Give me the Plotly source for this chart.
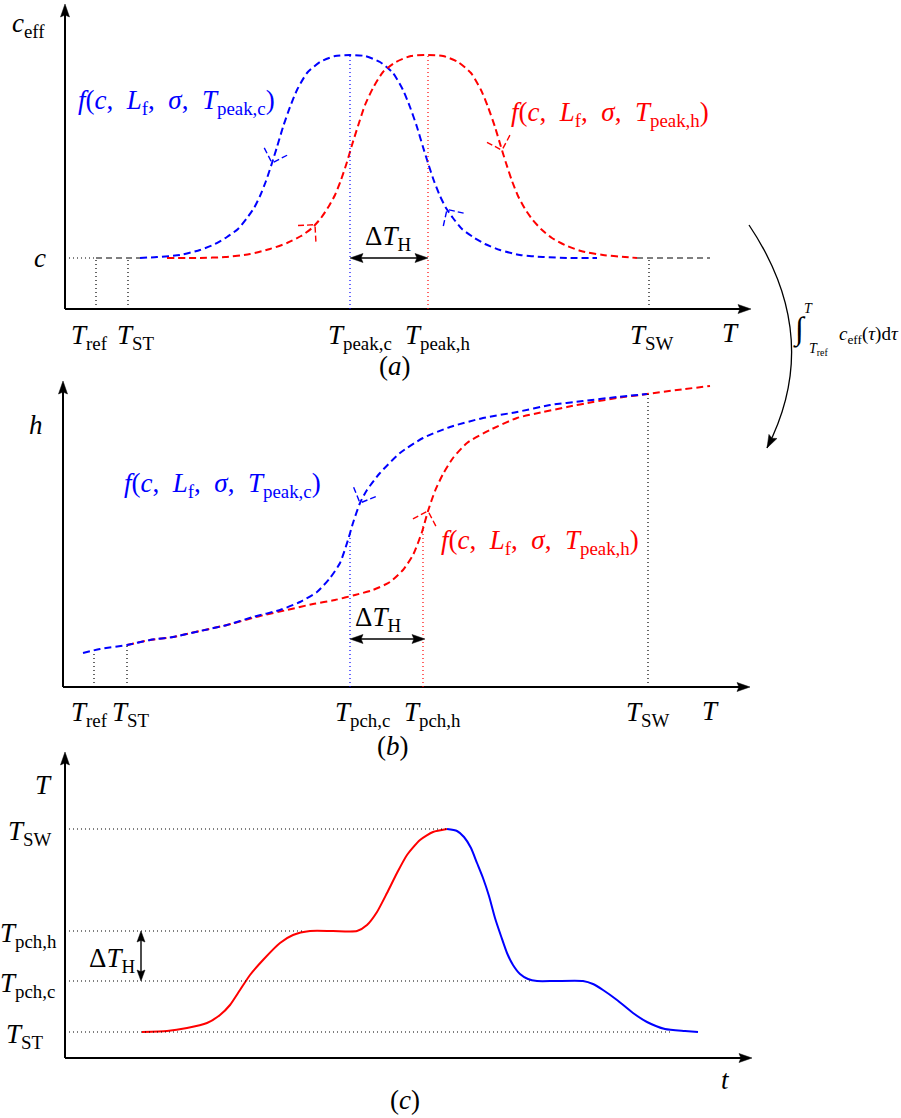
import numpy as np
import plotly.graph_objects as go

# ======================= DATA (schematic units) =======================
# ---- Panel (a): effective heat capacity c_eff versus temperature T ----
a_tick_T = [31, 63, 285, 363, 584]
a_tick_text = ["<i>T</i><sub>ref</sub>", "<i>T</i><sub>ST</sub>",
               "<i>T</i><sub>peak,c</sub>", "<i>T</i><sub>peak,h</sub>",
               "<i>T</i><sub>SW</sub>"]
a_c_level = 51          # c
a_c_peak = 254
a_cool_T = [75, 92, 115, 135, 150, 162, 173, 182, 189, 195, 201, 207, 212, 218, 225,
            232, 242, 255, 270, 285, 300, 315, 328, 338, 345, 352, 358, 363, 369, 375,
            381, 388, 397, 408, 420, 435, 455, 478, 505, 532]
a_cool_c = [51, 52, 54, 59, 65, 72, 80, 91, 101, 113, 128, 146, 162, 182, 202,
            219, 236, 247, 253, 254, 253, 247, 236, 219, 202, 182, 162, 146, 128, 113,
            101, 91, 80, 72, 65, 59, 54, 52, 51, 51]
a_heat_T = [102, 135, 160, 185, 205, 222, 236, 247, 256, 264, 270, 276, 282, 287, 293,
            300, 308, 318, 331, 346, 363, 378, 393, 406, 416, 423, 430, 436, 441, 447,
            453, 460, 467, 476, 487, 500, 516, 538, 560, 572]
a_heat_c = [51, 51, 52, 55, 60, 66, 73, 81, 91, 103, 114, 129, 147, 164, 183,
            204, 221, 237, 247, 253, 254, 253, 247, 236, 219, 202, 182, 162, 146, 128,
            113, 100, 90, 80, 71, 64, 58, 54, 52, 51]
a_base_left_T = [31, 75]
a_base_right_T = [572, 645]
a_arrow_cool_T = [207, 382]
a_arrow_heat_T = [250, 437]

# ---- Panel (b): enthalpy h versus temperature T ----
b_tick_T = [31, 64, 287, 360, 585]
b_tick_h = [35, 42, 153, 163, 293]
b_tick_text = ["<i>T</i><sub>ref</sub>", "<i>T</i><sub>ST</sub>",
               "<i>T</i><sub>pch,c</sub>", "<i>T</i><sub>pch,h</sub>",
               "<i>T</i><sub>SW</sub>"]
b_cool_T = [20, 37, 64, 87, 110, 137, 164, 190, 217, 237, 254, 267, 277, 285, 290,
            297, 304, 317, 337, 360, 387, 420, 454, 487, 520, 554, 584]
b_cool_h = [34, 38, 42, 47, 50, 56, 62, 70, 77, 85, 95, 109, 124, 147, 164,
            184, 197, 214, 234, 249, 260, 269, 275, 282, 286, 290, 293]
b_heat_T = [64, 87, 110, 137, 164, 197, 224, 250, 272, 292, 310, 327, 340, 350, 359,
            365, 372, 380, 390, 404, 427, 454, 480, 504, 530, 554, 584, 614, 647]
b_heat_h = [42, 47, 50, 56, 62, 71, 77, 83, 87, 92, 97, 105, 117, 132, 155,
            176, 196, 213, 229, 244, 257, 269, 275, 280, 285, 289, 293, 297, 301]
b_arrow_cool_T = [297]
b_arrow_heat_T = [365]

# ---- Panel (c): temperature T versus time t ----
c_tick_T = [229, 127, 77, 26]
c_tick_text = ["<i>T</i><sub>SW</sub>", "<i>T</i><sub>pch,h</sub>",
               "<i>T</i><sub>pch,c</sub>", "<i>T</i><sub>ST</sub>"]
c_guide_end_t = [382, 240, 465, 608]
c_heat_t = [77, 102, 122, 142, 155, 165, 175, 185, 198, 215, 228, 245, 268, 292, 302,
            312, 322, 332, 342, 355, 368, 382]
c_heat_T = [26, 27, 30, 35, 43, 53, 68, 83, 98, 115, 123, 127, 127, 127, 133,
            146, 165, 185, 203, 218, 226, 229]
c_cool_t = [382, 392, 399, 406, 412, 418, 424, 430, 436, 442, 448, 455, 463, 472, 490,
            518, 528, 538, 552, 568, 582, 600, 620, 633]
c_cool_T = [229, 227, 221, 210, 195, 180, 162, 140, 122, 105, 93, 84, 79, 77, 77,
            77, 74, 68, 58, 45, 36, 29, 27, 26]
c_dT_t = 76

# ======================= STYLE / LAYOUT =======================
W_PX, H_PX = 901, 1118
FONT = "Liberation Serif, Times New Roman, DejaVu Serif, serif"
FS = 27
BLUE, RED, BLACK = "#0000ff", "#ff0000", "#000000"
DASH = "7px,4px"
DOT = "1px,3px"
SP = "\u2002"

panels = {
    "a": dict(x0=65, y0=309, top=0, bottom=372, xa="x", ya="y", xlen=686, ylen=305),
    "b": dict(x0=63, y0=687, top=372, bottom=748, xa="x2", ya="y2", xlen=687, ylen=306),
    "c": dict(x0=65, y0=1058, top=748, bottom=1118, xa="x3", ya="y3", xlen=687, ylen=306),
}

fig = go.Figure()
axes_layout = {}
for i, (k, p) in enumerate(panels.items()):
    s = "" if i == 0 else str(i + 1)
    axes_layout["xaxis" + s] = dict(domain=[0, 1], range=[-p["x0"], W_PX - p["x0"]],
                                    visible=False, fixedrange=True, anchor="y" + s)
    axes_layout["yaxis" + s] = dict(domain=[1 - p["bottom"] / H_PX, 1 - p["top"] / H_PX],
                                    range=[p["y0"] - p["bottom"], p["y0"] - p["top"]],
                                    visible=False, fixedrange=True, anchor="x" + s)

shapes, annots = [], []


def line(pn, x0, y0, x1, y1, color=BLACK, width=1.2, dash=None):
    p = panels[pn]
    shapes.append(dict(type="line", xref=p["xa"], yref=p["ya"], x0=x0, y0=y0, x1=x1, y1=y1,
                       line=dict(color=color, width=width, dash=dash), layer="above"))


def head(pn, tip, d, L=13, W=4.5, color=BLACK):
    p = panels[pn]
    d = np.array(d, float); d /= np.linalg.norm(d)
    n = np.array([-d[1], d[0]])
    t = np.array(tip, float)
    b = t - L * d
    b1, b2 = b + W * n, b - W * n
    notch = t - 0.85 * L * d
    path = (f"M {t[0]},{t[1]} L {b1[0]},{b1[1]} L {notch[0]},{notch[1]} "
            f"L {b2[0]},{b2[1]} Z")
    shapes.append(dict(type="path", xref=p["xa"], yref=p["ya"], path=path,
                       fillcolor=color, line=dict(color=color, width=0.5), layer="above"))


def curve(pn, x, y, color, dash=DASH, width=2.0):
    p = panels[pn]
    fig.add_trace(go.Scatter(x=x, y=y, xaxis=p["xa"], yaxis=p["ya"], mode="lines",
                             line=dict(color=color, width=width, dash=dash,
                                       shape="spline", smoothing=0.6),
                             hoverinfo="skip", showlegend=False))


def text(pn, x, y, s, color=BLACK, size=FS, **kw):
    p = panels[pn]
    a = dict(xref=p["xa"], yref=p["ya"], x=x, y=y, text=s, showarrow=False,
             font=dict(family=FONT, size=size, color=color),
             xanchor="center", yanchor="middle")
    a.update(kw)
    annots.append(a)


def chevron(pn, X, Y, t_tip, sign, color, leg=17):
    X = np.asarray(X, float); Y = np.asarray(Y, float)
    y_tip = np.interp(t_tip, X, Y)
    h = 2.0
    slope = (np.interp(t_tip + h, X, Y) - np.interp(t_tip - h, X, Y)) / (2 * h)
    d = sign * np.array([1.0, slope]); d /= np.linalg.norm(d)
    back = -d
    for ang in (np.pi / 4, -np.pi / 4):
        c, s = np.cos(ang), np.sin(ang)
        r = np.array([c * back[0] - s * back[1], s * back[0] + c * back[1]])
        e = np.array([t_tip, y_tip]) + leg * r
        line(pn, e[0], e[1], t_tip, y_tip, color=color, width=1.4, dash="6px,3px")


def axes_arrows(pn):
    p = panels[pn]
    line(pn, 0, 0, p["xlen"] - 8, 0, width=2)
    line(pn, 0, 0, 0, p["ylen"] - 8, width=2)
    head(pn, (p["xlen"], 0), (1, 0))
    head(pn, (0, p["ylen"]), (0, 1))


def flabel(sub):
    return (f"<i>f</i>(<i>c</i>,{SP}<i>L</i><sub>f</sub>,{SP}<i>σ</i>,{SP}"
            f"<i>T</i><sub>{sub}</sub>)")


# ---------------- Panel (a) ----------------
axes_arrows("a")
line("a", 0, a_c_level, a_base_left_T[0], a_c_level, dash=DOT)
line("a", a_base_left_T[0], a_c_level, a_base_left_T[1], a_c_level, dash="6px,4px")
line("a", a_base_right_T[0], a_c_level, a_base_right_T[1], a_c_level, dash="6px,4px")
for T, col, top in zip(a_tick_T, [BLACK, BLACK, BLUE, RED, BLACK],
                       [a_c_level, a_c_level, a_c_peak, a_c_peak, a_c_level]):
    line("a", T, 0, T, top, color=col, dash=DOT)
curve("a", a_cool_T, a_cool_c, BLUE)
curve("a", a_heat_T, a_heat_c, RED)
for T in a_arrow_cool_T:
    chevron("a", a_cool_T, a_cool_c, T, -1, BLUE)
for T in a_arrow_heat_T:
    chevron("a", a_heat_T, a_heat_c, T, +1, RED)
line("a", a_tick_T[2] + 6, a_c_level, a_tick_T[3] - 6, a_c_level, width=1.6)
head("a", (a_tick_T[2], a_c_level), (-1, 0))
head("a", (a_tick_T[3], a_c_level), (1, 0))

a_label_x = [24, 71, 295, 372, 587]
for x, s in zip(a_label_x, a_tick_text):
    text("a", x, -28, s)
text("a", 665, -24, "<i>T</i>")
text("a", -37, 284, "<i>c</i><sub>eff</sub>")
text("a", -25, 51, "<i>c</i>")
text("a", 111, 207, flabel("peak,c"), color=BLUE)
text("a", 545, 195, flabel("peak,h"), color=RED)
text("a", 323, 52, "Δ<i>T</i><sub>H</sub>", yanchor="bottom")
text("a", 330, -57, "(<i>a</i>)")

# ---------------- Panel (b) ----------------
axes_arrows("b")
for T, h, col in zip(b_tick_T, b_tick_h, [BLACK, BLACK, BLUE, RED, BLACK]):
    line("b", T, 0, T, h, color=col, dash=DOT)
curve("b", b_heat_T, b_heat_h, RED)
curve("b", b_cool_T, b_cool_h, BLUE)
for T in b_arrow_cool_T:
    chevron("b", b_cool_T, b_cool_h, T, -1, BLUE)
for T in b_arrow_heat_T:
    chevron("b", b_heat_T, b_heat_h, T, +1, RED)
line("b", b_tick_T[2] + 6, 48, b_tick_T[3] - 6, 48, width=1.6)
head("b", (b_tick_T[2], 48), (-1, 0))
head("b", (b_tick_T[3] + 2, 48), (1, 0))

b_label_x = [26, 68, 299, 369, 585]
for x, s in zip(b_label_x, b_tick_text):
    text("b", x, -27, s)
text("b", 647, -24, "<i>T</i>")
text("b", -27, 262, "<i>h</i>")
text("b", 159, 202, flabel("peak,c"), color=BLUE)
text("b", 477, 145, flabel("peak,h"), color=RED)
text("b", 315, 49, "Δ<i>T</i><sub>H</sub>", yanchor="bottom")
text("b", 330, -59, "(<i>b</i>)")

# ---------------- Panel (c) ----------------
axes_arrows("c")
for T, tend in zip(c_tick_T, c_guide_end_t):
    line("c", 0, T, tend, T, dash=DOT)
curve("c", c_heat_t, c_heat_T, RED, dash=None, width=2)
curve("c", c_cool_t, c_cool_T, BLUE, dash=None, width=2)
line("c", c_dT_t, c_tick_T[2] + 8, c_dT_t, c_tick_T[1] - 8, width=1.4)
head("c", (c_dT_t, c_tick_T[1]), (0, 1), L=11, W=4)
head("c", (c_dT_t, c_tick_T[2]), (0, -1), L=11, W=4)

c_label_x = [-35, -37, -38, -40]
for x, T, s in zip(c_label_x, c_tick_T, c_tick_text):
    text("c", x, T - 4, s)
text("c", -22, 273, "<i>T</i>")
text("c", 47, 98, "Δ<i>T</i><sub>H</sub>")
text("c", 660, -22, "<i>t</i>")
text("c", 340, -42, "(<i>c</i>)")

# ---------------- integral arrow between (a) and (b) (paper coords) ----------------
def px2paper(x, y):
    return x / W_PX, 1 - y / H_PX

P0, C, P2 = (749, 225), (824, 337), (767, 448)
q0, qc, q2 = px2paper(*P0), px2paper(*C), px2paper(*P2)
shapes.append(dict(type="path", xref="paper", yref="paper",
                   path=f"M {q0[0]},{q0[1]} Q {qc[0]},{qc[1]} {q2[0]},{q2[1]}",
                   line=dict(color=BLACK, width=1.3)))
d = np.array([P2[0] - C[0], P2[1] - C[1]], float); d /= np.linalg.norm(d)
n = np.array([-d[1], d[0]])
tip = np.array(P2, float)
b = tip - 13 * d
pts = [tip, b + 4.5 * n, tip - 11 * d, b - 4.5 * n]
pp = [px2paper(*q) for q in pts]
shapes.append(dict(type="path", xref="paper", yref="paper",
                   path="M " + " L ".join(f"{a[0]},{a[1]}" for a in pp) + " Z",
                   fillcolor=BLACK, line=dict(color=BLACK, width=0.5)))


def ptext(x, y, s, size, **kw):
    px, py = px2paper(x, y)
    a = dict(xref="paper", yref="paper", x=px, y=py, text=s, showarrow=False,
             font=dict(family=FONT, size=size, color=BLACK), xanchor="center", yanchor="middle")
    a.update(kw)
    annots.append(a)


ptext(799, 329, "∫", 32)
ptext(808, 308, "<i>T</i>", 14)
ptext(818, 349, "<i>T</i><sub>ref</sub>", 14)
ptext(869, 335, "<i>c</i><sub>eff</sub>(<i>τ</i>)d<i>τ</i>", 19)

fig.update_layout(width=W_PX, height=H_PX, margin=dict(l=0, r=0, t=0, b=0),
                  paper_bgcolor="white", plot_bgcolor="rgba(0,0,0,0)",
                  showlegend=False, shapes=shapes, annotations=annots, **axes_layout)
fig.write_html("out.html", config={"displayModeBar": False})
